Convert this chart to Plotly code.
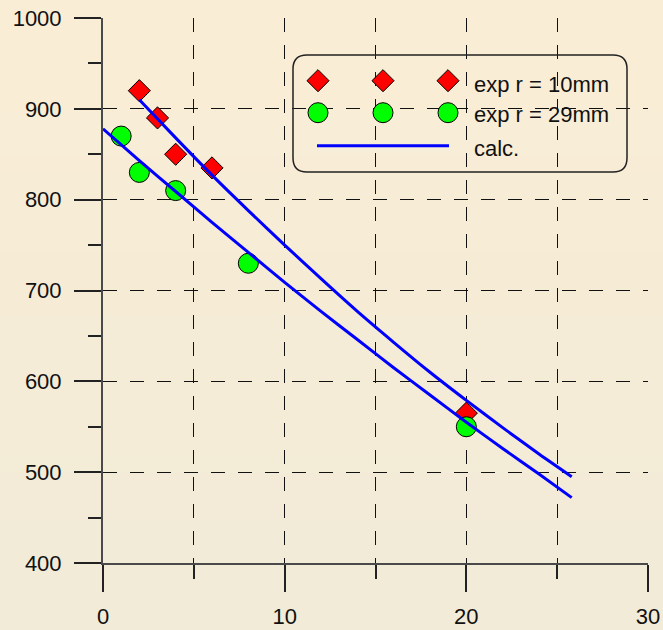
import plotly.graph_objects as go

# Measured points
r10_x = [2, 3, 4, 6, 20]
r10_y = [920, 890, 850, 835, 565]
r29_x = [1, 2, 4, 8, 20]
r29_y = [870, 830, 810, 730, 550]

# Calculated curves
calc10_x = [2, 4, 6, 8, 10, 12, 14, 16, 18, 20, 22, 24, 25.8]
calc10_y = [910, 868, 827, 788, 750, 713, 677, 643, 610, 579, 549, 520, 495]
calc29_x = [0, 2, 4, 6, 8, 10, 12, 14, 16, 18, 20, 22, 24, 25.8]
calc29_y = [878, 843, 809, 775, 742, 709, 677, 646, 615, 585, 555, 526, 498, 472]

legend_labels = ["exp r = 10mm", "exp r = 29mm", "calc."]

W, H = 663, 630
L, R, T, B = 103, 15, 18, 67
PW, PH = W - L - R, H - T - B

FONT = "Arial, Liberation Sans, sans-serif"
GRID_DASH = "14px,13px"


def px(x):
    return (x - L) / PW


def py(y):
    return (H - B - y) / PH


fig = go.Figure()

# soft vertical background gradient
top_c = (250, 237, 213)
bot_c = (241, 235, 216)
n_bands = 40
shapes = []
for i in range(n_bands):
    t = i / (n_bands - 1)
    c = tuple(round(a + (b - a) * t) for a, b in zip(top_c, bot_c))
    y_top = i * H / n_bands
    y_bot = (i + 1) * H / n_bands + 1
    shapes.append(dict(type="rect", xref="paper", yref="paper", layer="below",
                       x0=px(0), x1=px(W), y0=py(y_bot), y1=py(y_top),
                       line=dict(width=0), fillcolor="rgb(%d,%d,%d)" % c))

# data markers
fig.add_trace(go.Scatter(x=r10_x, y=r10_y, mode="markers", showlegend=False,
                         marker=dict(symbol="diamond", size=17, color="#FF0000",
                                     line=dict(color="#000000", width=1))))
fig.add_trace(go.Scatter(x=r29_x, y=r29_y, mode="markers", showlegend=False,
                         marker=dict(symbol="circle", size=20, color="#00FF00",
                                     line=dict(color="#000000", width=1))))
# calculated lines on top
for cx, cy in ((calc10_x, calc10_y), (calc29_x, calc29_y)):
    fig.add_trace(go.Scatter(x=cx, y=cy, mode="lines", showlegend=False,
                             line=dict(color="#0000FF", width=3, shape="spline", smoothing=0.6)))

# legend box drawn by hand
lx = [318, 383, 448]
fig.add_trace(go.Scatter(x=[px(v) for v in lx], y=[py(80.7)] * 3, xaxis="x2", yaxis="y2",
                         mode="markers", showlegend=False, cliponaxis=False, hoverinfo="skip",
                         marker=dict(symbol="diamond", size=17, color="#FF0000",
                                     line=dict(color="#000000", width=1))))
fig.add_trace(go.Scatter(x=[px(v) for v in lx], y=[py(112.7)] * 3, xaxis="x2", yaxis="y2",
                         mode="markers", showlegend=False, cliponaxis=False, hoverinfo="skip",
                         marker=dict(symbol="circle", size=20, color="#00FF00",
                                     line=dict(color="#000000", width=1))))
fig.add_trace(go.Scatter(x=[px(317), px(449)], y=[py(145.7)] * 2, xaxis="x2", yaxis="y2",
                         mode="lines", showlegend=False, cliponaxis=False, hoverinfo="skip",
                         line=dict(color="#0000FF", width=3)))

x0, x1, y0, y1, r = 293, 627, 55, 172, 14
pts = [("M", x0 + r, y0), ("L", x1 - r, y0), ("Q", x1, y0, x1, y0 + r),
       ("L", x1, y1 - r), ("Q", x1, y1, x1 - r, y1), ("L", x0 + r, y1),
       ("Q", x0, y1, x0, y1 - r), ("L", x0, y0 + r), ("Q", x0, y0, x0 + r, y0)]
path = ""
for p in pts:
    cmd, coords = p[0], p[1:]
    pairs = ["%.5f,%.5f" % (px(coords[k]), py(coords[k + 1])) for k in range(0, len(coords), 2)]
    path += cmd + " " + " ".join(pairs) + " "
path += "Z"
shapes.append(dict(type="path", xref="paper", yref="paper", path=path, layer="above",
                   line=dict(color="#222222", width=1.5), fillcolor="rgba(0,0,0,0)"))

annotations = []
for label, yy in zip(legend_labels, [84, 115, 148]):
    annotations.append(dict(text=label, xref="paper", yref="paper", x=px(472), y=py(yy),
                            xanchor="left", yanchor="middle", showarrow=False,
                            font=dict(family=FONT, size=22, color="#111111")))

grid_kw = dict(gridcolor="#111111", gridwidth=1.3, griddash=GRID_DASH)

fig.update_layout(
    width=W, height=H,
    margin=dict(l=L, r=R, t=T, b=B, pad=0, autoexpand=False),
    paper_bgcolor="rgb(245,236,214)",
    plot_bgcolor="rgba(0,0,0,0)",
    font=dict(family=FONT, size=22, color="#111111"),
    shapes=shapes,
    annotations=annotations,
    xaxis=dict(range=[0, 30], tick0=0, dtick=10, ticks="outside", ticklen=27,
               tickwidth=1.5, tickcolor="#222222", showline=True, linecolor="#4a4a4a",
               linewidth=2, zeroline=False, showgrid=True, ticklabelstandoff=6,
               automargin=False,
               minor=dict(dtick=5, ticks="outside", ticklen=14, tickwidth=1.5,
                          tickcolor="#222222", showgrid=True, **grid_kw),
               **grid_kw),
    yaxis=dict(range=[400, 1000], tick0=400, dtick=100, ticks="outside", ticklen=27,
               tickwidth=1.5, tickcolor="#222222", showline=True, linecolor="#4a4a4a",
               linewidth=2, zeroline=False, showgrid=True, ticklabelstandoff=8,
               automargin=False,
               minor=dict(dtick=50, ticks="outside", ticklen=13, tickwidth=1.5,
                          tickcolor="#222222", showgrid=False),
               **grid_kw),
    xaxis2=dict(overlaying="x", range=[0, 1], visible=False),
    yaxis2=dict(overlaying="y", range=[0, 1], visible=False),
)

fig.write_html("out.html")
